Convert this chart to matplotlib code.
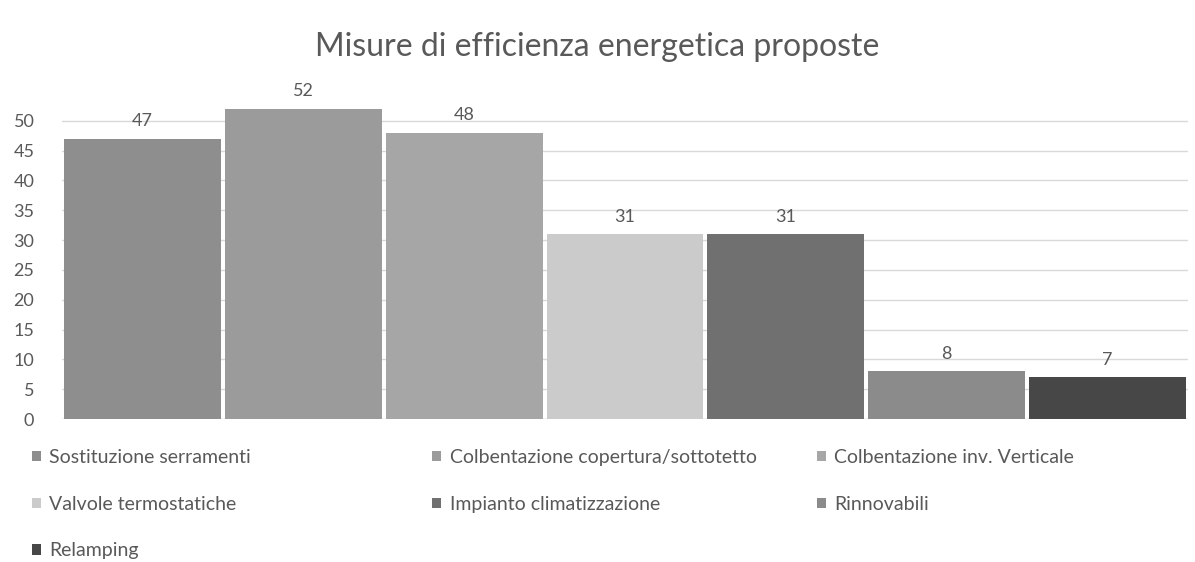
import matplotlib
matplotlib.use("Agg")
import matplotlib.pyplot as plt
from matplotlib.patches import Patch

# --- data ---
measures = [
    "Sostituzione serramenti",
    "Colbentazione copertura/sottotetto",
    "Colbentazione inv. Verticale",
    "Valvole termostatiche",
    "Impianto climatizzazione",
    "Rinnovabili",
    "Relamping",
]
counts = [47, 52, 48, 31, 31, 8, 7]
colors = ["#8e8e8e", "#9b9b9b", "#a6a6a6", "#cbcbcb", "#707070", "#8b8b8b", "#474747"]
y_ticks = list(range(0, 55, 5))

plt.rcParams["font.family"] = ["Lato", "DejaVu Sans"]
text_col = "#595959"

fig = plt.figure(figsize=(11.95, 5.62), dpi=100)
ax = fig.add_axes([0.052, 0.2544, 0.942, 0.568])

x = list(range(len(measures)))
bars = ax.bar(x, counts, width=0.975, color=colors, zorder=2)
for rect, v in zip(bars, counts):
    ax.text(rect.get_x() + rect.get_width() / 2, v + 1.6, str(v),
            ha="center", va="bottom", fontsize=13, color=text_col)

ax.set_xlim(-0.5, len(measures) - 0.5)
ax.set_ylim(0, 53.5)
ax.set_yticks(y_ticks)
ax.set_yticklabels([str(t) for t in y_ticks], fontsize=13, color=text_col)
ax.tick_params(axis="y", length=0, pad=20)
ax.set_xticks([])
ax.yaxis.grid(True, color="#d9d9d9", linewidth=1, zorder=0)
for s in ax.spines.values():
    s.set_visible(False)
ax.axhline(0, color="#d9d9d9", linewidth=1, zorder=1)

fig.text(0.5, 0.917, "Misure di efficienza energetica proposte",
         ha="center", va="center", fontsize=23, color=text_col)

# legend laid out in three fixed columns, row-major like the original
handles = [Patch(facecolor=c, edgecolor="none") for c in colors]
col_x = [0.012, 0.347, 0.669]
for col in range(3):
    idx = [i for i in range(len(measures)) if i % 3 == col]
    fig.legend([handles[i] for i in idx], [measures[i] for i in idx],
               loc="upper left", bbox_to_anchor=(col_x[col], 0.232),
               frameon=False, fontsize=14, labelcolor=text_col,
               handlelength=0.45, handleheight=0.45, handletextpad=0.45,
               labelspacing=1.52)

fig.savefig("out.png", dpi=100)
